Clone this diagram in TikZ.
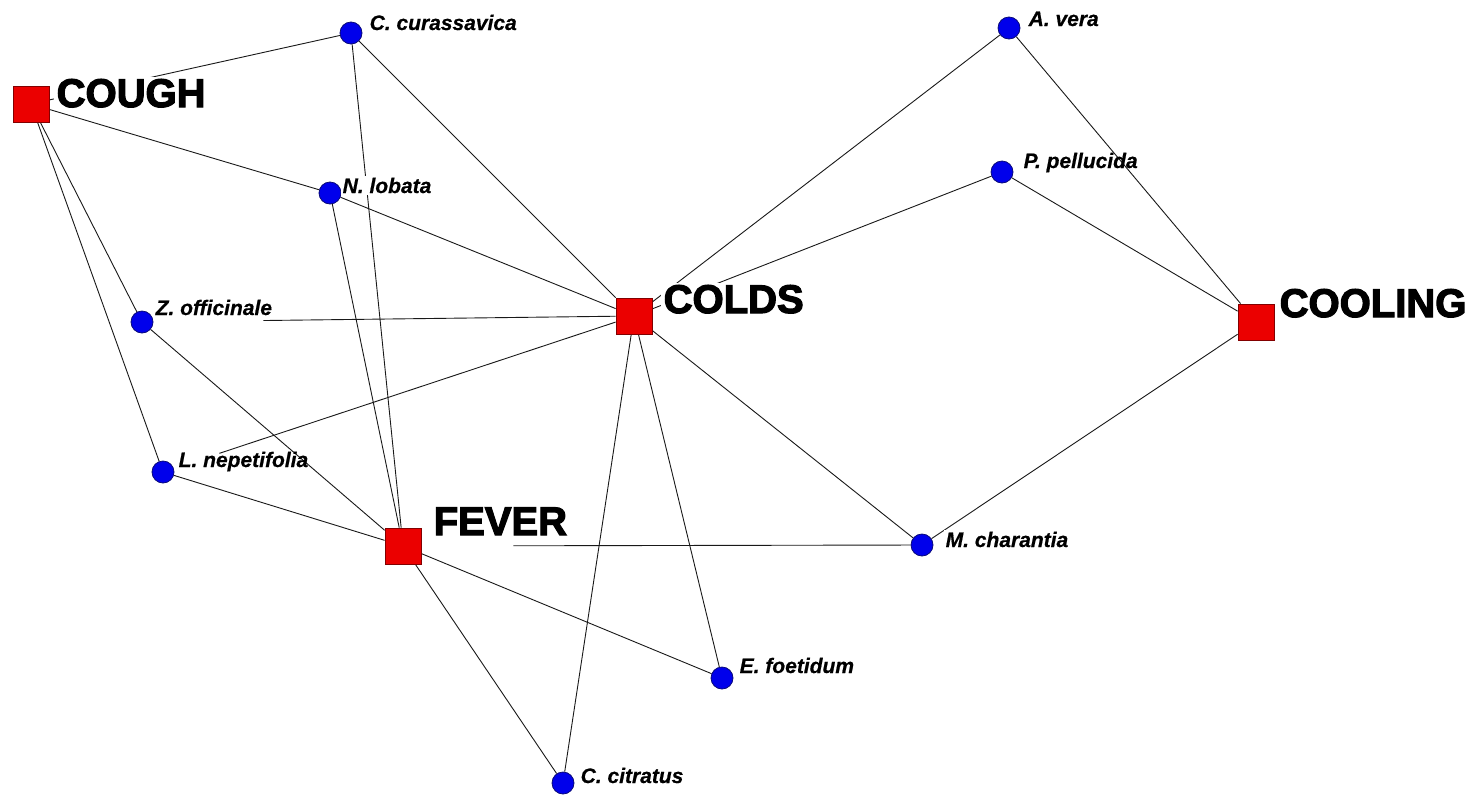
\documentclass[tikz,border=0pt]{standalone}
\usepackage{fontspec}
\setmainfont{Liberation Sans}
\newfontface\bigfont{Liberation Sans Bold}[FakeBold=3]
\newfontface\plantfont{Liberation Sans Bold Italic}[FakeBold=0.6]
\usetikzlibrary{backgrounds}

\begin{document}
\begin{tikzpicture}[x=1pt,y=-1pt,
  plant/.style={circle, draw={rgb,255:red,10;green,10;blue,120}, fill={rgb,255:red,0;green,0;blue,235},
    minimum size=22pt, inner sep=0pt, line width=0.8pt},
  ailment/.style={rectangle, draw={rgb,255:red,130;green,0;blue,0}, fill={rgb,255:red,235;green,0;blue,0},
    minimum size=36pt, inner sep=0pt, line width=0.8pt},
  biglabel/.style={anchor=base west, inner sep=2.5pt, fill=white, font=\bigfont\fontsize{40}{40}\selectfont},
  smalllabel/.style={anchor=base west, inner sep=1.5pt, font=\plantfont\fontsize{21}{21}\selectfont},
  covered/.style={fill=white},
  link/.style={draw=black!90, line width=0.9pt}]

\useasboundingbox (0,0) rectangle (1476,796);

% ailments
\node[ailment] (cough) at (31,104) {};
\node[ailment] (colds) at (634,316) {};
\node[ailment] (fever) at (403,546) {};
\node[ailment] (cool)  at (1256,322) {};

% plants
\node[plant] (ccur) at (351,33) {};
\node[plant] (nlob) at (330,193) {};
\node[plant] (zoff) at (142,322) {};
\node[plant] (lnep) at (163,472) {};
\node[plant] (aver) at (1009,28) {};
\node[plant] (ppel) at (1002,172) {};
\node[plant] (mcha) at (922,545) {};
\node[plant] (efoe) at (722,678) {};
\node[plant] (ccit) at (563,783) {};

% links
\begin{scope}[on background layer]
  \fill[white] (0,0) rectangle (1476,796);
  \draw[link] (cough) -- (ccur);
  \draw[link] (cough) -- (nlob);
  \draw[link] (cough) -- (zoff);
  \draw[link] (cough) -- (lnep);
  \draw[link] (ccur) -- (fever);
  \draw[link] (ccur) -- (colds);
  \draw[link] (nlob) -- (colds);
  \draw[link] (nlob) -- (fever);
  \draw[link, shorten <=110pt] (zoff) -- (colds);
  \draw[link] (zoff) -- (fever);
  \draw[link, shorten <=48pt] (lnep) -- (colds);
  \draw[link] (lnep) -- (fever);
  \draw[link] (colds) -- (aver);
  \draw[link] (colds) -- (ppel);
  \draw[link] (colds) -- (mcha);
  \draw[link] (colds) -- (efoe);
  \draw[link] (colds) -- (ccit);
  \draw[link, shorten <=92pt] (fever) -- (mcha);
  \draw[link] (fever) -- (efoe);
  \draw[link] (fever) -- (ccit);
  \draw[link] (aver) -- (cool);
  \draw[link] (ppel) -- (cool);
  \draw[link] (mcha) -- (cool);
\end{scope}

% labels
\node[biglabel] (coughlbl) at (54,107) {COUGH};
\node[biglabel] (coldslbl) at (661,313) {COLDS};
\node[biglabel, fill=none] (feverlbl) at (431,535) {FEVER};
\node[biglabel, fill=none] (coollbl) at (1277,317) {COOLING};

\node[smalllabel] (ccurlbl) at (368,30) {C. curassavica};
\node[smalllabel, covered] (nloblbl) at (341,193) {N. lobata};
\node[smalllabel] (zofflbl) at (154,315) {Z. officinale};
\node[smalllabel] (lneplbl) at (177,467) {L. nepetifolia};
\node[smalllabel] (averlbl) at (1027,26) {A. vera};
\node[smalllabel] (ppellbl) at (1022,168) {P. pellucida};
\node[smalllabel, covered] (mchalbl) at (944,547) {M. charantia};
\node[smalllabel] (efoelbl) at (738,673) {E. foetidum};
\node[smalllabel] (ccitlbl) at (579,783) {C. citratus};
\end{tikzpicture}
\end{document}
